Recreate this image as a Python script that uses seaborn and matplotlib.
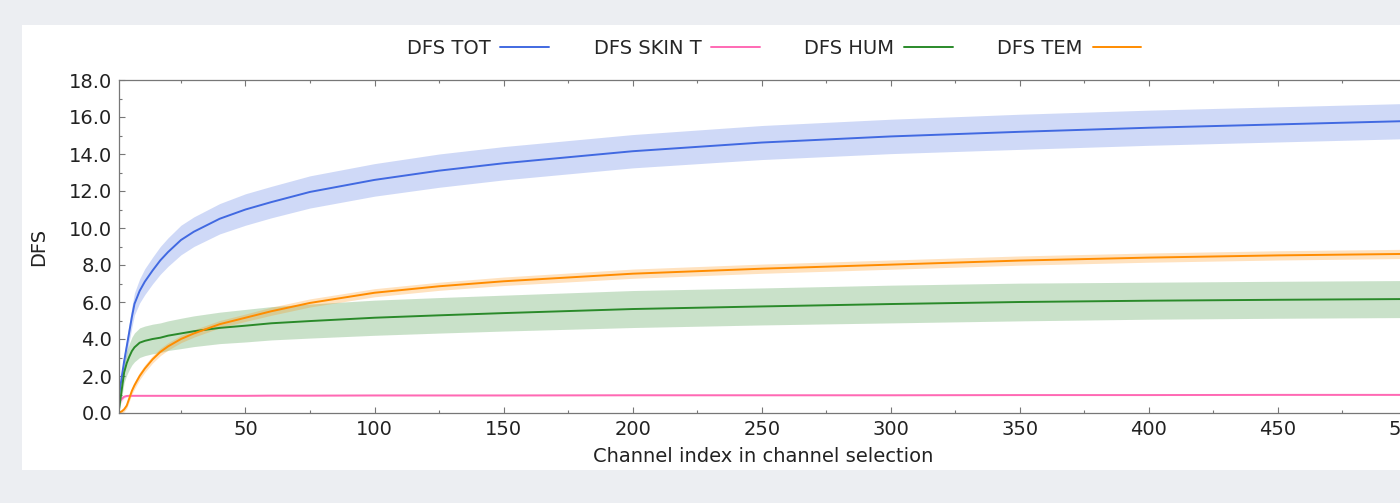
import numpy as np
import pandas as pd
import matplotlib
matplotlib.use("Agg")
import matplotlib.pyplot as plt
from matplotlib.patches import Rectangle
from matplotlib.ticker import MultipleLocator, FormatStrFormatter
import seaborn as sns

# channel index (anchor points)
channels = [1, 2, 3, 4, 5, 6, 7, 9, 11, 14, 17, 20, 25, 30, 40, 50, 60, 75,
            100, 125, 150, 200, 250, 300, 350, 400, 450, 500]

dfs_tot = [0.9, 1.9, 2.8, 3.6, 4.4, 5.2, 5.9, 6.6, 7.1, 7.7, 8.25, 8.7, 9.35, 9.8,
           10.5, 11.0, 11.4, 11.95, 12.6, 13.1, 13.5, 14.15, 14.62, 14.95,
           15.2, 15.42, 15.6, 15.78]
dfs_tot_err = [0.2, 0.3, 0.4, 0.45, 0.5, 0.55, 0.6, 0.65, 0.7, 0.72, 0.75, 0.77,
               0.8, 0.8, 0.82, 0.85, 0.85, 0.87, 0.88, 0.9, 0.9, 0.9, 0.92, 0.93,
               0.95, 0.95, 0.95, 0.95]

dfs_skin = [0.6, 0.75, 0.88, 0.92, 0.93, 0.93, 0.93, 0.93, 0.93, 0.93, 0.93, 0.93,
            0.93, 0.93, 0.93, 0.93, 0.94, 0.94, 0.95, 0.95, 0.95, 0.96, 0.96, 0.96,
            0.97, 0.97, 0.98, 0.98]
dfs_skin_err = [0.2, 0.15, 0.08, 0.05, 0.03, 0.03, 0.03, 0.03, 0.03, 0.03, 0.03,
                0.03, 0.03, 0.03, 0.03, 0.03, 0.03, 0.03, 0.03, 0.03, 0.03, 0.03,
                0.03, 0.03, 0.03, 0.03, 0.03, 0.03]

dfs_hum = [0.2, 1.2, 2.2, 2.7, 3.05, 3.35, 3.55, 3.8, 3.9, 4.0, 4.07, 4.18, 4.3,
           4.42, 4.6, 4.72, 4.85, 4.97, 5.15, 5.28, 5.4, 5.62, 5.76, 5.89, 6.0,
           6.07, 6.12, 6.16]
dfs_hum_err = [0.1, 0.4, 0.55, 0.65, 0.7, 0.75, 0.78, 0.8, 0.8, 0.8, 0.8, 0.8,
               0.82, 0.83, 0.85, 0.88, 0.9, 0.92, 0.95, 0.96, 0.97, 1.0, 1.0,
               1.02, 1.02, 1.0, 1.0, 1.0]

dfs_tem = [0.03, 0.08, 0.2, 0.4, 0.8, 1.2, 1.5, 2.0, 2.4, 2.9, 3.3, 3.6, 4.0,
           4.3, 4.8, 5.15, 5.5, 5.95, 6.5, 6.85, 7.12, 7.53, 7.8, 8.02, 8.24,
           8.4, 8.52, 8.6]
dfs_tem_err = [0.08, 0.1, 0.12, 0.15, 0.17, 0.18, 0.2, 0.2, 0.2, 0.2, 0.2, 0.2,
               0.2, 0.2, 0.2, 0.2, 0.22, 0.22, 0.22, 0.22, 0.23, 0.25, 0.25,
               0.25, 0.25, 0.25, 0.25, 0.25]

series = {
    "DFS TOT": (dfs_tot, dfs_tot_err),
    "DFS SKIN T": (dfs_skin, dfs_skin_err),
    "DFS HUM": (dfs_hum, dfs_hum_err),
    "DFS TEM": (dfs_tem, dfs_tem_err),
}
colors = {"DFS TOT": "#4169e1", "DFS SKIN T": "#ff69b4",
          "DFS HUM": "#2a8a2a", "DFS TEM": "#ff8c00"}

# long form: low / mean / high per channel, band = min..max
rows = []
for name, (mean, err) in series.items():
    for c, m, e in zip(channels, mean, err):
        for v in (m - e, m, m + e):
            rows.append({"channel": c, "dfs": v, "series": name})
df = pd.DataFrame(rows)

sns.set_style("ticks")
plt.rcParams["font.family"] = ["DejaVu Sans"]

fig = plt.figure(figsize=(14, 5.03), dpi=100, facecolor="#eceef2")
fig.patches.append(Rectangle((22 / 1400, 1 - 470 / 503), 2, 445 / 503,
                             transform=fig.transFigure, facecolor="white",
                             edgecolor="none", zorder=-1))
ax = fig.add_axes([119 / 1400, 1 - 413 / 503, 1288 / 1400, 333 / 503])

sns.lineplot(data=df, x="channel", y="dfs", hue="series",
             hue_order=list(series.keys()), palette=colors,
             estimator="median", errorbar=lambda v: (v.min(), v.max()),
             err_kws={"alpha": 0.25, "linewidth": 0}, linewidth=1.4, ax=ax)

ax.set_xlim(1, 500)
ax.set_ylim(0, 18)
ax.xaxis.set_major_locator(MultipleLocator(50))
ax.xaxis.set_minor_locator(MultipleLocator(25))
ax.yaxis.set_major_locator(MultipleLocator(2))
ax.yaxis.set_minor_locator(MultipleLocator(1))
ax.yaxis.set_major_formatter(FormatStrFormatter("%.1f"))
ax.tick_params(which="both", direction="in", top=True, right=True,
               color="#777777", labelsize=14, labelcolor="#222222")
ax.tick_params(which="major", length=4, width=0.8, pad=5)
ax.tick_params(which="minor", length=2.5, width=0.8)
for s in ax.spines.values():
    s.set_color("#777777")
    s.set_linewidth(0.9)

ax.set_xlabel("Channel index in channel selection", fontsize=14, color="#222222", labelpad=6)
ax.set_ylabel("DFS", fontsize=14, color="#222222", labelpad=15)

handles, labels = ax.get_legend_handles_labels()
ax.get_legend().remove()
fig.legend(handles, labels, loc="center", bbox_to_anchor=(774 / 1400, 1 - 48 / 503),
           ncol=4, frameon=False, markerfirst=False, fontsize=14,
           handlelength=2.5, handletextpad=0.5, columnspacing=2.3)

fig.savefig("out.png", dpi=100, facecolor=fig.get_facecolor())
